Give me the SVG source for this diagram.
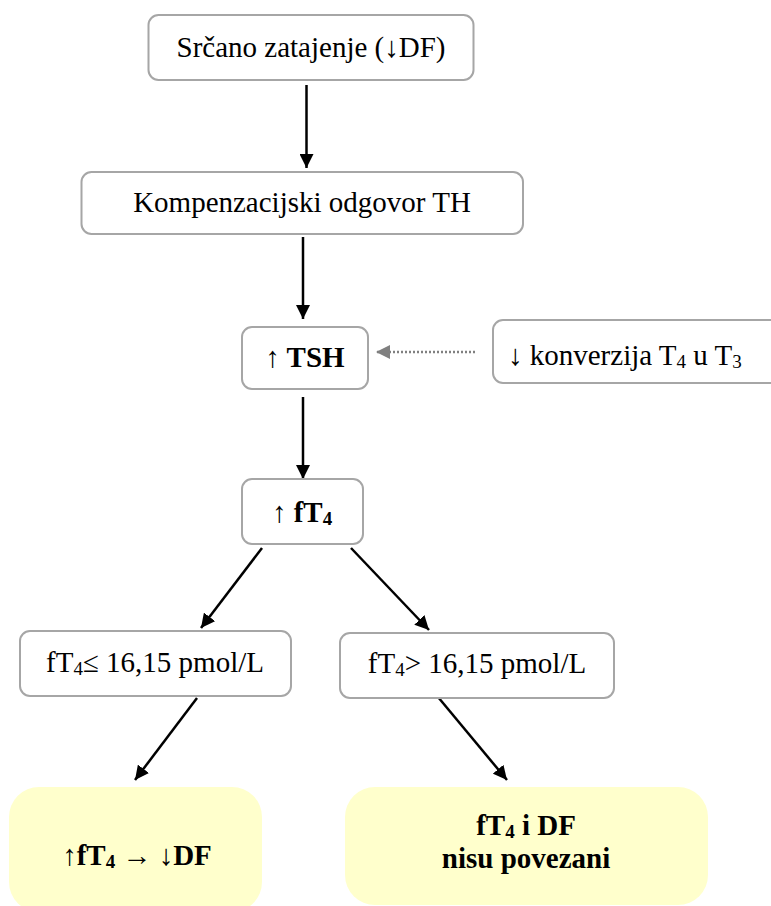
<svg xmlns="http://www.w3.org/2000/svg" width="771" height="906" viewBox="0 0 771 906">
<style>
.box{fill:#fff;stroke:#a6a6a6;stroke-width:2}
.ybox{fill:#ffffcc;stroke:none}
.t{font-family:"Liberation Serif","Times New Roman",serif;font-size:29px;fill:#000}
.b{font-weight:bold}
.c{text-anchor:middle}
.sub{font-size:19px}
.arr{stroke:#000;stroke-width:2.5;fill:none;marker-end:url(#ah)}
.dot{stroke:#808080;stroke-width:2.5;stroke-dasharray:2 2;fill:none;marker-end:url(#ahg)}
</style>
<defs>
<marker id="ah" viewBox="0 0 14 14" refX="14" refY="7" markerWidth="14" markerHeight="14" markerUnits="userSpaceOnUse" orient="auto">
<path d="M0,0 L14,7 L0,14 z" fill="#000"/>
</marker>
<marker id="ahg" viewBox="0 0 14 14" refX="14" refY="7" markerWidth="14" markerHeight="14" markerUnits="userSpaceOnUse" orient="auto">
<path d="M0,0 L14,7 L0,14 z" fill="#808080"/>
</marker>
</defs>
<rect width="771" height="906" fill="#fff"/>
<g id="connectors">
<line class="arr" x1="306.5" y1="85" x2="306.5" y2="168"/>
<line class="arr" x1="303" y1="237" x2="303" y2="319"/>
<line class="arr" x1="303" y1="397" x2="303" y2="479"/>
<line class="arr" x1="262" y1="548" x2="201" y2="628"/>
<line class="arr" x1="351" y1="548" x2="429" y2="630"/>
<line class="arr" x1="197" y1="698" x2="135" y2="780"/>
<line class="arr" x1="438" y1="697" x2="507" y2="780"/>
<line class="dot" x1="475" y1="352" x2="376" y2="352"/>
</g>
<g id="n1">
<rect class="box" x="148.5" y="15" width="325" height="65" rx="10"/>
<text class="t c" x="311" y="57">Srčano zatajenje (↓DF)</text>
</g>
<g id="n2">
<rect class="box" x="81.5" y="172" width="441.5" height="62" rx="10"/>
<text class="t c" x="302" y="212">Kompenzacijski odgovor TH</text>
</g>
<g id="n3">
<rect class="box" x="242" y="327" width="126" height="62" rx="10"/>
<text class="t c b" x="305" y="367" font-size="28">↑ TSH</text>
</g>
<g id="n4">
<rect class="box" x="493" y="320" width="290" height="63" rx="10"/>
<text class="t" x="508" y="365">↓ konverzija T<tspan class="sub" dy="3">4</tspan><tspan dy="-3"> u T</tspan><tspan class="sub" dy="3">3</tspan></text>
</g>
<g id="n5">
<rect class="box" x="242" y="479" width="121" height="65" rx="10"/>
<text class="t c b" x="302" y="522">↑ fT<tspan class="sub" dy="3">4</tspan></text>
</g>
<g id="n6">
<rect class="box" x="20" y="631" width="271" height="65" rx="10"/>
<text class="t c" x="155" y="672">fT<tspan class="sub" dy="3">4</tspan><tspan dy="-3">≤ 16,15 pmol/L</tspan></text>
</g>
<g id="n7">
<rect class="box" x="340" y="633" width="274" height="65" rx="10"/>
<text class="t c" x="477" y="673">fT<tspan class="sub" dy="3">4</tspan><tspan dy="-3">&gt; 16,15 pmol/L</tspan></text>
</g>
<g id="n8">
<rect class="ybox" x="9" y="787" width="253" height="125" rx="30"/>
<text class="t c b" x="137" y="865" font-size="30">↑fT<tspan class="sub" dy="3">4</tspan><tspan dy="-3"> → ↓DF</tspan></text>
</g>
<g id="n9">
<rect class="ybox" x="345" y="787" width="363" height="118" rx="30"/>
<text class="t c b" x="526" y="835">fT<tspan class="sub" dy="3">4</tspan><tspan dy="-3"> i DF</tspan></text>
<text class="t c b" x="526" y="868">nisu povezani</text>
</g>
</svg>
